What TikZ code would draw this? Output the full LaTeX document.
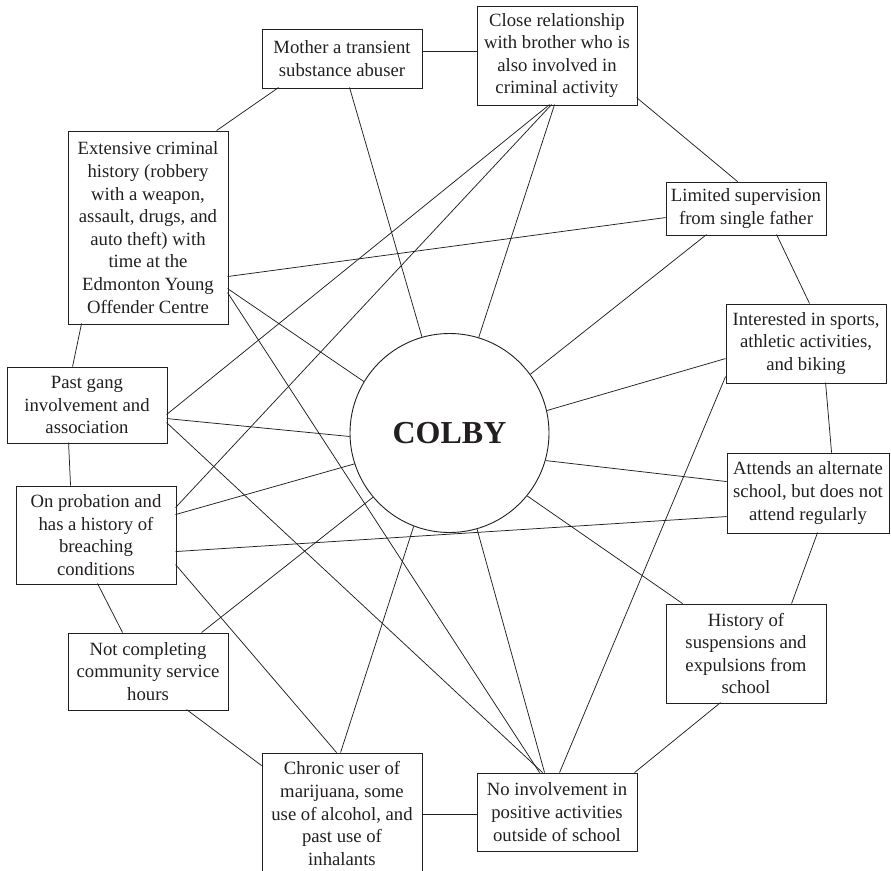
\documentclass[tikz,border=0pt]{standalone}
\usepackage{fontspec}
\setmainfont{Liberation Serif}
\usetikzlibrary{calc}
\definecolor{ink}{HTML}{231F20}
\begin{document}
\begin{tikzpicture}[x=1pt,y=-1pt,
  box/.style={draw=ink, line width=0.9pt, minimum width=160pt, inner sep=0pt, align=center,
    font=\fontsize{18.7}{22.6}\selectfont, text=ink},
  ln/.style={draw=ink, line width=0.75pt}]
\useasboundingbox (0,0) rectangle (891,870);
\clip (0,0) rectangle (891,870);

% nodes
\node[box, minimum height=59pt] (mother) at (342,58.5) {Mother a transient\\substance abuser};
\node[box, minimum height=99pt] (close) at (557,55.5) {Close relationship\\with brother who is\\also involved in\\criminal activity};
\node[box, minimum height=193pt] (ext) at (148,227.5) {Extensive criminal\\history (robbery\\with a weapon,\\assault, drugs, and\\auto theft) with\\time at the\\Edmonton Young\\Offender Centre};
\node[box, minimum height=53pt] (lim) at (746,208.5) {Limited supervision\\from single father};
\node[box, minimum height=79pt] (int) at (806,343.5) {Interested in sports,\\athletic activities,\\and biking};
\node[box, minimum height=76pt] (gang) at (87,405) {Past gang\\involvement and\\association};
\node[box, minimum height=98pt] (prob) at (96,535) {On probation and\\has a history of\\breaching\\conditions};
\node[box, minimum height=80pt, minimum width=162pt] (att) at (808,493) {Attends an alternate\\school, but does not\\attend regularly};
\node[box, minimum height=77pt] (comm) at (148,671.5) {Not completing\\community service\\hours};
\node[box, minimum height=121pt] (chron) at (342,813.5) {Chronic user of\\marijuana, some\\use of alcohol, and\\past use of\\inhalants};
\node[box, minimum height=78pt] (noinv) at (557,812) {No involvement in\\positive activities\\outside of school};
\node[box, minimum height=99pt] (hist) at (746,653.5) {History of\\suspensions and\\expulsions from\\school};
\node[draw=ink, line width=0.9pt, circle, minimum size=199pt, inner sep=0pt, text=ink,
  font=\fontsize{32}{38}\selectfont\bfseries] (colby) at (449.5,433) {COLBY};

% ring
\draw[ln] ($(mother.north west)+(160,23)$) -- ($(close.north west)+(0,46)$);
\draw[ln] ($(mother.north west)+(17,59)$) -- ($(ext.north west)+(149,0)$);
\draw[ln] ($(close.north west)+(160,92)$) -- ($(lim.north west)+(72,0)$);
\draw[ln] ($(lim.north west)+(111,53)$) -- ($(int.north west)+(84,0)$);
\draw[ln] ($(int.north west)+(100,79)$) -- ($(att.north west)+(105,0)$);
\draw[ln] ($(att.north west)+(91,80)$) -- ($(hist.north west)+(126,0)$);
\draw[ln] ($(hist.north west)+(55,99)$) -- ($(noinv.north west)+(158,0)$);
\draw[ln] ($(noinv.north west)+(0,42)$) -- ($(chron.north west)+(160,62)$);
\draw[ln] ($(chron.north west)+(0,13)$) -- ($(comm.north west)+(119,77)$);
\draw[ln] ($(comm.north west)+(55,0)$) -- ($(prob.north west)+(82,98)$);
\draw[ln] ($(prob.north west)+(55,0)$) -- ($(gang.north west)+(62,76)$);
\draw[ln] ($(gang.north west)+(66,0)$) -- ($(ext.north west)+(14,193)$);

% spokes
\draw[ln] ($(mother.north west)+(88,59)$) -- (colby.106.5);
\draw[ln] ($(close.north west)+(78,99)$) -- (colby.73.6);
\draw[ln] ($(lim.north west)+(41,53)$) -- (colby.36.4);
\draw[ln] ($(int.north west)+(0,55)$) -- (colby.13.3);
\draw[ln] ($(att.north west)+(0,29)$) -- (colby.-16.7);
\draw[ln] ($(hist.north west)+(17,0)$) -- (colby.-39.2);
\draw[ln] ($(noinv.north west)+(68,0)$) -- (colby.-74);
\draw[ln] ($(chron.north west)+(79,0)$) -- (colby.249.3);
\draw[ln] ($(comm.north west)+(134,0)$) -- (colby.220.4);
\draw[ln] ($(prob.north west)+(160,29)$) -- (colby.198.5);
\draw[ln] ($(gang.north west)+(160,52)$) -- (colby.182.9);
\draw[ln] ($(ext.north west)+(160,158)$) -- (colby.149.5);

% cross links
\draw[ln] ($(ext.north west)+(160,146)$) -- ($(lim.north west)+(0,36)$);
\draw[ln] ($(ext.north west)+(160,162)$) -- ($(noinv.north west)+(63,0)$);
\draw[ln] ($(close.north west)+(73,99)$) -- ($(gang.north west)+(160,48)$);
\draw[ln] ($(close.north west)+(75,99)$) -- ($(prob.north west)+(160,22)$);
\draw[ln] ($(int.north west)+(0,73)$) -- ($(noinv.north west)+(83,0)$);
\draw[ln] ($(att.north west)+(0,64)$) -- ($(prob.north west)+(160,66)$);
\draw[ln] ($(gang.north west)+(160,56)$) -- ($(noinv.north west)+(66,0)$);
\draw[ln] ($(prob.north west)+(160,79)$) -- ($(chron.north west)+(75,0)$);
\end{tikzpicture}
\end{document}
